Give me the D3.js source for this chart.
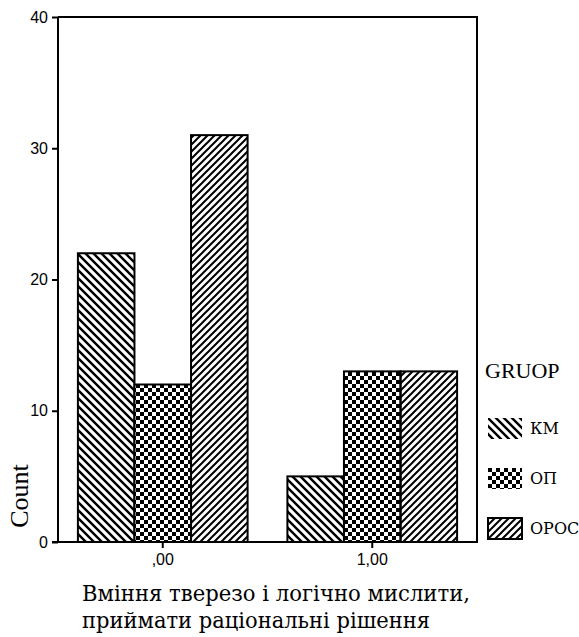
<!DOCTYPE html>
<html>
<head>
<meta charset="utf-8">
<script src="https://cdn.jsdelivr.net/npm/d3@7"></script>
<style>
  body { margin: 0; background: #fff; }
  .tick text { font-family: "Liberation Sans", Arial, sans-serif; font-size: 16px; }
  .serif { font-family: "Liberation Serif", "Times New Roman", serif; }
  .cyr { font-family: "DejaVu Serif", serif; }
</style>
</head>
<body>
<div id="vis-container"></div>
<script>
let width = 579;
let height = 637;
let categories = [",00", "1,00"];
let groups = ["КМ", "ОП", "ОРОС"];
let values_km = [22, 5];
let values_op = [12, 13];
let values_opoc = [31, 13];
let y_ticks = [0, 10, 20, 30, 40];
let x_title = ["Вміння тверезо і логічно мислити,", "приймати раціональні рішення"];
let legend_title = "GRUOP";

let series = [values_km, values_op, values_opoc];
let patterns = ["pat-km", "pat-op", "pat-opoc"];

let plot_left = 58, plot_right = 477, plot_top = 17, plot_bottom = 542;

let svg = d3.select("#vis-container").append("svg")
    .attr("width", width)
    .attr("height", height);

// fill patterns
let defs = svg.append("defs");
let pk = defs.append("pattern").attr("id", "pat-km")
    .attr("patternUnits", "userSpaceOnUse").attr("width", 8).attr("height", 8);
pk.append("path").attr("d", "M-2,-2L10,10M-2,6L2,10M6,-2L10,2")
    .attr("stroke", "#000").attr("stroke-width", 2.4);
let po = defs.append("pattern").attr("id", "pat-op")
    .attr("patternUnits", "userSpaceOnUse").attr("width", 8).attr("height", 8);
po.append("rect").attr("width", 8).attr("height", 8).attr("fill", "#fff");
po.append("rect").attr("width", 4).attr("height", 4).attr("fill", "#000");
po.append("rect").attr("x", 4).attr("y", 4).attr("width", 4).attr("height", 4).attr("fill", "#000");
let pc = defs.append("pattern").attr("id", "pat-opoc")
    .attr("patternUnits", "userSpaceOnUse").attr("width", 7).attr("height", 7);
pc.append("path").attr("d", "M-2,9L9,-2M-2,2L2,-2M5,9L9,5")
    .attr("stroke", "#000").attr("stroke-width", 2);

let x = d3.scaleBand()
    .domain(categories)
    .range([plot_left, plot_right])
    .paddingInner(0.19)
    .paddingOuter(0.095);
let xs = d3.scaleBand()
    .domain(d3.range(groups.length))
    .range([0, x.bandwidth()]);
let y = d3.scaleLinear().domain([0, 40]).range([plot_bottom, plot_top]);

// bars
series.forEach(function(vals, si) {
  svg.append("g").selectAll("rect")
    .data(vals)
    .enter().append("rect")
      .attr("x", function(d, i) { return x(categories[i]) + xs(si); })
      .attr("y", function(d) { return y(d); })
      .attr("width", xs.bandwidth())
      .attr("height", function(d) { return y(0) - y(d); })
      .attr("fill", "url(#" + patterns[si] + ")")
      .attr("stroke", "#000")
      .attr("stroke-width", 2);
});

// frame
svg.append("path")
    .attr("d", "M" + plot_left + "," + plot_top + "H" + plot_right + "V" + plot_bottom)
    .attr("fill", "none").attr("stroke", "#000").attr("stroke-width", 2);

// axes
let yAxis = svg.append("g")
    .attr("transform", "translate(" + plot_left + ",0)")
    .call(d3.axisLeft(y).tickValues(y_ticks).tickSize(6).tickPadding(4));
let xAxis = svg.append("g")
    .attr("transform", "translate(0," + plot_bottom + ")")
    .call(d3.axisBottom(x).tickSize(6).tickPadding(6));
[yAxis, xAxis].forEach(function(a) {
  a.select(".domain").remove();
  a.selectAll("line").attr("stroke", "#000").attr("stroke-width", 2);
  a.selectAll("text").attr("fill", "#000");
});
svg.append("line").attr("x1", plot_left).attr("x2", plot_left).attr("y1", plot_top).attr("y2", plot_bottom + 1)
    .attr("stroke", "#000").attr("stroke-width", 2);
svg.append("line").attr("x1", plot_left - 6).attr("x2", plot_right + 1).attr("y1", plot_bottom).attr("y2", plot_bottom)
    .attr("stroke", "#000").attr("stroke-width", 2);

// axis titles
svg.append("text").attr("class", "serif")
    .attr("transform", "translate(28,496) rotate(-90)")
    .attr("text-anchor", "middle")
    .attr("font-size", 26)
    .text("Count");
// no Cyrillic in the Times-like font here, so squeeze DejaVu Serif to the reference line widths
let title_widths = [388, 348];
svg.append("text").attr("class", "cyr")
    .attr("font-size", 23)
    .selectAll("tspan")
    .data(x_title)
    .enter().append("tspan")
      .attr("x", 82)
      .attr("y", function(d, i) { return 601 + i * 27; })
      .attr("textLength", function(d, i) { return title_widths[i]; })
      .attr("lengthAdjust", "spacingAndGlyphs")
      .text(function(d) { return d; });

// legend
svg.append("text").attr("class", "serif")
    .attr("x", 485).attr("y", 378)
    .attr("font-size", 22)
    .text(legend_title);
let legend = svg.selectAll("g.legend")
    .data(groups)
    .enter().append("g")
    .attr("class", "legend")
    .attr("transform", function(d, i) { return "translate(488," + (418 + i * 50) + ")"; });
legend.append("rect")
    .attr("width", 34).attr("height", 21)
    .attr("fill", function(d, i) { return "url(#" + patterns[i] + ")"; })
    .attr("stroke", function(d, i) { return i == 2 ? "#000" : "none"; })
    .attr("stroke-width", 2);
legend.append("text").attr("class", "cyr")
    .attr("x", 42).attr("y", 16)
    .attr("font-size", 16)
    .text(function(d) { return d; });
</script>
</body>
</html>
